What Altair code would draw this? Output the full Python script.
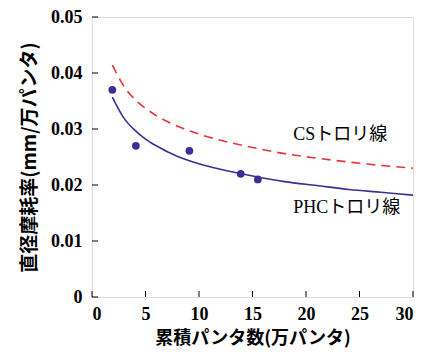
import altair as alt
import pandas as pd

# measured points (PHC)
pt_x = [1.9, 4.1, 9.1, 13.9, 15.5]
pt_y = [0.0370, 0.0270, 0.0261, 0.0220, 0.0210]

# curves
cx = [1.9, 3, 4, 5, 6, 8, 10, 12, 15, 18, 21, 24, 27, 30]
phc_y = [0.0357, 0.0319, 0.0298, 0.0282, 0.0270, 0.0251, 0.0238, 0.0228,
         0.0216, 0.0206, 0.0199, 0.0192, 0.0187, 0.0182]
cs_y = [0.0414, 0.0376, 0.0353, 0.0337, 0.0324, 0.0305, 0.0291, 0.0280,
        0.0267, 0.0256, 0.0248, 0.0241, 0.0235, 0.0230]

labels = ["CSトロリ線", "PHCトロリ線"]
label_x = [18.8, 18.8]
label_y = [0.0289, 0.0159]

x_ticks = [0, 5, 10, 15, 20, 25, 30]
y_ticks = [0, 0.01, 0.02, 0.03, 0.04, 0.05]

PURPLE = "#3f2d96"
RED = "#e8323f"
FONT = "Liberation Serif, Noto Sans CJK JP"
CJK = "Noto Sans CJK JP"

xs = alt.Scale(domain=[0, 30], nice=False)
ys = alt.Scale(domain=[0, 0.05], nice=False)

xaxis = alt.Axis(values=x_ticks, title="累積パンタ数(万パンタ)", ticks=False, domain=False,
                 grid=False, labelPadding=8, labelFont="Liberation Serif",
                 labelFontWeight="bold", labelFontSize=18, labelColor="black",
                 titleFont=CJK, titleFontWeight="bold", titleFontSize=18,
                 titleColor="black", titlePadding=6)
yaxis = alt.Axis(values=y_ticks, title="直径摩耗率(mm/万パンタ)", ticks=False, domain=False,
                 grid=False, labelPadding=10, labelFont="Liberation Serif",
                 labelFontWeight="bold", labelFontSize=18, labelColor="black",
                 labelExpr="datum.value == 0 ? '0' : format(datum.value, '.2f')",
                 titleFont=CJK, titleFontWeight="bold", titleFontSize=19,
                 titleColor="black", titlePadding=11)

curves = pd.DataFrame({"x": cx * 2, "y": phc_y + cs_y,
                       "s": ["PHC"] * len(cx) + ["CS"] * len(cx)})
pts = pd.DataFrame({"x": pt_x, "y": pt_y})
lab = pd.DataFrame({"x": label_x, "y": label_y, "t": labels})
xt = pd.DataFrame({"v": x_ticks})
yt = pd.DataFrame({"v": y_ticks})

base_x = alt.X("x:Q", scale=xs, axis=xaxis)
base_y = alt.Y("y:Q", scale=ys, axis=yaxis)

phc = alt.Chart(curves).transform_filter("datum.s == 'PHC'").mark_line(
    color=PURPLE, strokeWidth=1.6, interpolate="monotone").encode(x=base_x, y=base_y)
cs = alt.Chart(curves).transform_filter("datum.s == 'CS'").mark_line(
    color=RED, strokeWidth=1.6, strokeDash=[9, 6], interpolate="monotone").encode(x=base_x, y=base_y)
points = alt.Chart(pts).mark_circle(color=PURPLE, size=60, opacity=1).encode(x=base_x, y=base_y)
texts = alt.Chart(lab).mark_text(align="left", baseline="middle", font=FONT,
                                  fontSize=18, color="black").encode(
    x="x:Q", y="y:Q", text="t:N")

ytick = alt.Chart(yt).mark_rule(color="black", strokeWidth=1).encode(
    y=alt.Y("v:Q", scale=ys), x=alt.value(0), x2=alt.value(6))
xtick = alt.Chart(xt).mark_rule(color="black", strokeWidth=1).encode(
    x=alt.X("v:Q", scale=xs), y=alt.value(280), y2=alt.value(274))

chart = alt.layer(ytick, xtick, cs, phc, points, texts).properties(
    width=321, height=280,
    autosize=alt.AutoSizeParams(type="none"),
    padding={"left": 84, "top": 9, "right": 6, "bottom": 53},
).configure_view(stroke="black", strokeWidth=1.5).configure(background="white")

chart.save("out.html", embed_options={"renderer": "svg", "actions": False})
